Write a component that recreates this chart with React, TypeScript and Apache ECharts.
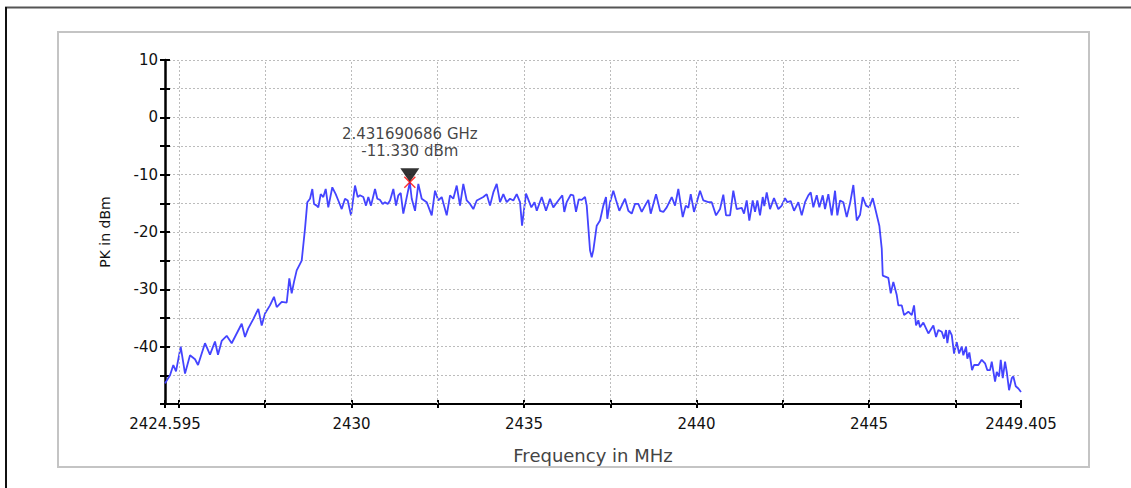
import React, { useEffect, useRef } from "react";
import * as echarts from "echarts";

// Frequency axis (MHz)
const X_MIN = 2424.595;
const X_MAX = 2449.405;
const xLabelValues = [2424.595, 2430, 2435, 2440, 2445, 2449.405];
const xLabelTexts = ["2424.595", "2430", "2435", "2440", "2445", "2449.405"];
const xTickValues = [2424.595, 2425, 2427.5, 2430, 2432.5, 2435, 2437.5, 2440, 2442.5, 2445, 2447.5, 2449.405];
const xGridValues = [2425, 2427.5, 2430, 2432.5, 2435, 2437.5, 2440, 2442.5, 2445, 2447.5, 2449.405];

// Level axis (dBm)
const Y_MIN = -50;
const Y_MAX = 10;
const Y_STEP = 5;

// Marker
const peakFreqMHz = 2431.690686;
const peakDbm = -11.33;

// Trace
const freqMHz = [
  2424.595, 2424.740, 2424.836, 2424.914, 2425.050, 2425.175, 2425.320, 2425.465, 2425.552, 2425.754,
  2425.899, 2426.044, 2426.131, 2426.238, 2426.383, 2426.528, 2426.673, 2426.818, 2426.914, 2427.009,
  2427.154, 2427.299, 2427.398, 2427.494, 2427.638, 2427.754, 2427.833, 2427.978, 2428.123, 2428.198,
  2428.267, 2428.334, 2428.412, 2428.557, 2428.653, 2428.720, 2428.798, 2428.865, 2428.914, 2428.992,
  2429.039, 2429.108, 2429.183, 2429.253, 2429.328, 2429.444, 2429.543, 2429.618, 2429.717, 2429.812,
  2429.891, 2429.986, 2430.102, 2430.181, 2430.247, 2430.343, 2430.421, 2430.488, 2430.566, 2430.682,
  2430.749, 2430.827, 2430.905, 2430.972, 2431.050, 2431.117, 2431.213, 2431.291, 2431.358, 2431.427,
  2431.502, 2431.572, 2431.690686, 2431.746, 2431.842, 2431.937, 2432.036, 2432.180, 2432.325, 2432.421,
  2432.517, 2432.615, 2432.760, 2432.856, 2432.951, 2433.050, 2433.146, 2433.241, 2433.340, 2433.436,
  2433.531, 2433.630, 2433.726, 2433.821, 2433.920, 2434.015, 2434.111, 2434.209, 2434.305, 2434.401,
  2434.499, 2434.595, 2434.691, 2434.789, 2434.885, 2434.943, 2435.059, 2435.213, 2435.305, 2435.371,
  2435.514, 2435.638, 2435.754, 2435.850, 2435.995, 2436.111, 2436.168, 2436.238, 2436.354, 2436.430,
  2436.508, 2436.586, 2436.673, 2436.769, 2436.818, 2436.914, 2436.963, 2437.009, 2437.108, 2437.204,
  2437.299, 2437.377, 2437.415, 2437.493, 2437.589, 2437.667, 2437.763, 2437.833, 2437.928, 2438.024,
  2438.122, 2438.218, 2438.314, 2438.412, 2438.508, 2438.604, 2438.673, 2438.827, 2438.943, 2439.039,
  2439.137, 2439.282, 2439.378, 2439.473, 2439.601, 2439.688, 2439.763, 2439.833, 2439.928, 2440.102,
  2440.198, 2440.343, 2440.441, 2440.566, 2440.682, 2440.777, 2440.856, 2440.972, 2441.067, 2441.166,
  2441.311, 2441.377, 2441.455, 2441.531, 2441.629, 2441.696, 2441.763, 2441.841, 2441.919, 2441.965,
  2442.035, 2442.130, 2442.246, 2442.371, 2442.470, 2442.566, 2442.633, 2442.731, 2442.827, 2442.952,
  2443.050, 2443.146, 2443.241, 2443.311, 2443.386, 2443.485, 2443.560, 2443.659, 2443.725, 2443.821,
  2443.920, 2444.015, 2444.082, 2444.160, 2444.256, 2444.354, 2444.450, 2444.546, 2444.645, 2444.740,
  2444.817, 2444.914, 2445.009, 2445.108, 2445.204, 2445.299, 2445.369, 2445.398, 2445.560, 2445.630,
  2445.705, 2445.804, 2445.850, 2445.949, 2446.016, 2446.140, 2446.239, 2446.305, 2446.363, 2446.430,
  2446.479, 2446.575, 2446.720, 2446.865, 2446.943, 2447.009, 2447.108, 2447.175, 2447.233, 2447.270,
  2447.328, 2447.398, 2447.465, 2447.543, 2447.610, 2447.688, 2447.734, 2447.812, 2447.850, 2447.908,
  2447.986, 2448.044, 2448.169, 2448.267, 2448.363, 2448.430, 2448.508, 2448.557, 2448.653, 2448.702,
  2448.769, 2448.818, 2448.876, 2448.943, 2448.992, 2449.059, 2449.137, 2449.183, 2449.253, 2449.328,
  2449.405,
];

const levelDbm = [
  -46.4, -45.0, -43.2, -44.3, -40.0, -44.7, -41.5, -42.2, -43.2, -39.4,
  -41.4, -39.1, -41.4, -39.0, -38.1, -39.4, -37.7, -36.0, -38.3, -36.8,
  -35.2, -33.4, -36.3, -34.2, -32.8, -31.3, -33.1, -32.2, -32.3, -28.1,
  -30.7, -28.7, -26.7, -25.0, -19.4, -14.8, -14.2, -12.5, -15.1, -15.4,
  -15.7, -13.4, -13.9, -12.5, -15.7, -12.2, -13.4, -14.5, -16.0, -14.2,
  -14.5, -17.1, -11.9, -13.9, -13.6, -13.9, -15.4, -13.9, -15.4, -12.5,
  -14.2, -14.4, -15.1, -14.8, -15.1, -14.5, -12.5, -15.4, -13.6, -13.2,
  -16.8, -14.8, -11.33, -14.2, -16.3, -11.6, -14.2, -14.8, -17.1, -12.8,
  -14.5, -13.9, -17.1, -13.6, -14.2, -11.9, -15.4, -11.6, -14.5, -15.1,
  -16.0, -14.5, -14.2, -13.9, -13.4, -15.4, -13.1, -11.6, -14.8, -13.4,
  -14.8, -14.2, -14.5, -13.4, -14.8, -18.9, -13.3, -15.7, -14.8, -16.3,
  -13.9, -16.3, -14.2, -15.7, -14.5, -13.6, -16.5, -14.8, -13.5, -13.6,
  -16.5, -14.3, -14.4, -13.9, -15.4, -23.2, -24.4, -23.2, -18.9, -18.0,
  -15.4, -13.9, -17.7, -14.8, -12.8, -14.4, -16.3, -15.4, -14.2, -16.3,
  -16.8, -15.1, -15.1, -16.5, -15.4, -14.4, -16.8, -13.4, -16.3, -16.5,
  -15.7, -13.9, -15.4, -12.5, -17.4, -15.4, -15.8, -13.4, -16.5, -12.8,
  -14.5, -14.8, -14.8, -17.1, -16.0, -13.5, -17.1, -17.1, -12.8, -16.0,
  -15.8, -16.8, -14.5, -18.0, -14.5, -16.5, -14.5, -17.1, -13.9, -15.5,
  -13.1, -16.0, -14.1, -16.0, -15.4, -14.1, -14.8, -14.6, -16.3, -14.8,
  -17.1, -14.8, -13.6, -13.1, -15.7, -13.6, -15.7, -13.6, -16.0, -13.4,
  -17.1, -12.8, -17.1, -14.5, -14.8, -17.4, -15.0, -11.8, -18.0, -17.0,
  -13.9, -15.4, -15.7, -14.1, -16.5, -18.9, -22.9, -27.6, -28.0, -30.7,
  -28.7, -31.0, -32.8, -32.8, -34.5, -33.9, -34.5, -32.8, -36.3, -35.4,
  -36.6, -35.8, -37.7, -36.3, -38.3, -37.1, -37.4, -38.6, -37.1, -39.4,
  -37.1, -38.0, -41.2, -39.2, -41.2, -40.0, -41.5, -40.0, -42.1, -41.0,
  -44.1, -43.2, -43.2, -42.3, -42.9, -44.1, -44.1, -42.6, -46.1, -44.4,
  -45.2, -42.3, -45.5, -42.6, -44.4, -47.6, -45.5, -45.2, -46.9, -47.3,
  -47.9,
];

const FONT = "DejaVu Sans";

export default function App() {
  const ref = useRef<HTMLDivElement>(null);

  useEffect(() => {
    if (!ref.current) return;
    const chart = echarts.init(ref.current, undefined, { renderer: "svg" });
    const trace = freqMHz.map((f, i) => [f, levelDbm[i]]);
    const gridStyle = { type: [2, 2] as any, color: "#bcbcbc", width: 1 };
    const markerText =
      (peakFreqMHz / 1000).toFixed(9) + " GHz\n" + peakDbm.toFixed(3) + " dBm";

    const option: any = {
      animation: false,
      textStyle: { fontFamily: FONT },
      graphic: [
        {
          type: "rect",
          z: -10,
          shape: { x: 58, y: 32, width: 1031, height: 435 },
          style: { fill: "#ffffff", stroke: "#c4c4c4", lineWidth: 2 },
        },
        {
          type: "line",
          shape: { x1: 5, y1: 7.5, x2: 1131, y2: 7.5 },
          style: { stroke: "#555555", lineWidth: 2 },
        },
        {
          type: "line",
          shape: { x1: 6, y1: 7, x2: 6, y2: 488 },
          style: { stroke: "#111111", lineWidth: 2 },
        },
      ],
      grid: { left: 165, right: 110, top: 60, bottom: 84, containLabel: false },
      xAxis: [
        {
          type: "value",
          min: X_MIN,
          max: X_MAX,
          position: "bottom",
          axisLine: { show: true, onZero: false, lineStyle: { color: "#000", width: 2 } },
          axisTick: {
            show: true,
            length: 4,
            customValues: xTickValues,
            lineStyle: { color: "#000", width: 2 },
          },
          axisLabel: {
            show: true,
            customValues: xLabelValues,
            formatter: (v: number) => {
              const i = xLabelValues.findIndex((x) => Math.abs(x - v) < 1e-6);
              return i >= 0 ? xLabelTexts[i] : "";
            },
            color: "#111",
            fontSize: 15,
            margin: 12,
            fontFamily: FONT,
          },
          splitLine: { show: false },
          name: "Frequency in MHz",
          nameLocation: "middle",
          nameGap: 42,
          nameTextStyle: { fontSize: 18, color: "#444", fontFamily: FONT },
        },
        {
          type: "value",
          min: X_MIN,
          max: X_MAX,
          position: "bottom",
          axisLine: { show: false, onZero: false },
          axisTick: {
            show: true,
            inside: true,
            length: 4,
            customValues: xTickValues,
            lineStyle: { color: "#000", width: 2 },
          },
          axisLabel: { show: false },
          splitLine: { show: false },
        },
      ],
      yAxis: [
        {
          type: "value",
          min: Y_MIN,
          max: Y_MAX,
          interval: Y_STEP,
          position: "left",
          axisLine: { show: true, onZero: false, lineStyle: { color: "#000", width: 2.5 } },
          axisTick: { show: true, length: 5, lineStyle: { color: "#000", width: 2 } },
          axisLabel: {
            formatter: (v: number) => (v % 10 === 0 && v > Y_MIN ? String(v) : ""),
            color: "#111",
            fontSize: 15,
            margin: 7,
            fontFamily: FONT,
          },
          splitLine: { show: true, lineStyle: gridStyle },
          name: "PK in dBm",
          nameLocation: "middle",
          nameGap: 53,
          nameTextStyle: { fontSize: 14, color: "#111", fontFamily: FONT },
        },
        {
          type: "value",
          min: Y_MIN,
          max: Y_MAX,
          interval: Y_STEP,
          position: "left",
          axisLine: { show: false, onZero: false },
          axisTick: { show: true, inside: true, length: 5, lineStyle: { color: "#000", width: 2 } },
          axisLabel: { show: false },
          splitLine: { show: false },
        },
      ],
      series: [
        {
          type: "line",
          data: [],
          z: 1,
          silent: true,
          markLine: {
            silent: true,
            symbol: ["none", "none"],
            label: { show: false },
            lineStyle: gridStyle,
            data: xGridValues.map((v) => ({ xAxis: v })),
          },
        },
        {
          type: "line",
          data: trace,
          showSymbol: false,
          symbol: "none",
          z: 3,
          lineStyle: { color: "#4444ff", width: 1.8 },
        },
        {
          type: "scatter",
          data: [[peakFreqMHz, peakDbm]],
          symbol: "path://M0,0L20,0L10,15Z",
          symbolSize: [19, 14],
          symbolOffset: [0, -7],
          itemStyle: { color: "#000" },
          z: 4,
        },
        {
          type: "scatter",
          data: [[peakFreqMHz, peakDbm]],
          symbol: "path://M0,0L10,10M10,0L0,10",
          symbolSize: 11,
          itemStyle: { color: "transparent", borderColor: "#ff0000", borderWidth: 1.5 },
          z: 5,
        },
        {
          type: "scatter",
          data: [[peakFreqMHz, peakDbm]],
          symbolSize: 1,
          itemStyle: { color: "transparent" },
          z: 6,
          label: {
            show: true,
            position: "top",
            distance: 22,
            formatter: () => markerText,
            color: "#111",
            fontSize: 15,
            lineHeight: 17,
            align: "center",
            fontFamily: FONT,
          },
        },
      ],
    };
    chart.setOption(option);
    return () => chart.dispose();
  }, []);

  return (
    <div
      ref={ref}
      style={{ position: "absolute", left: 0, top: 0, width: 1131, height: 488, background: "#fff" }}
    />
  );
}
